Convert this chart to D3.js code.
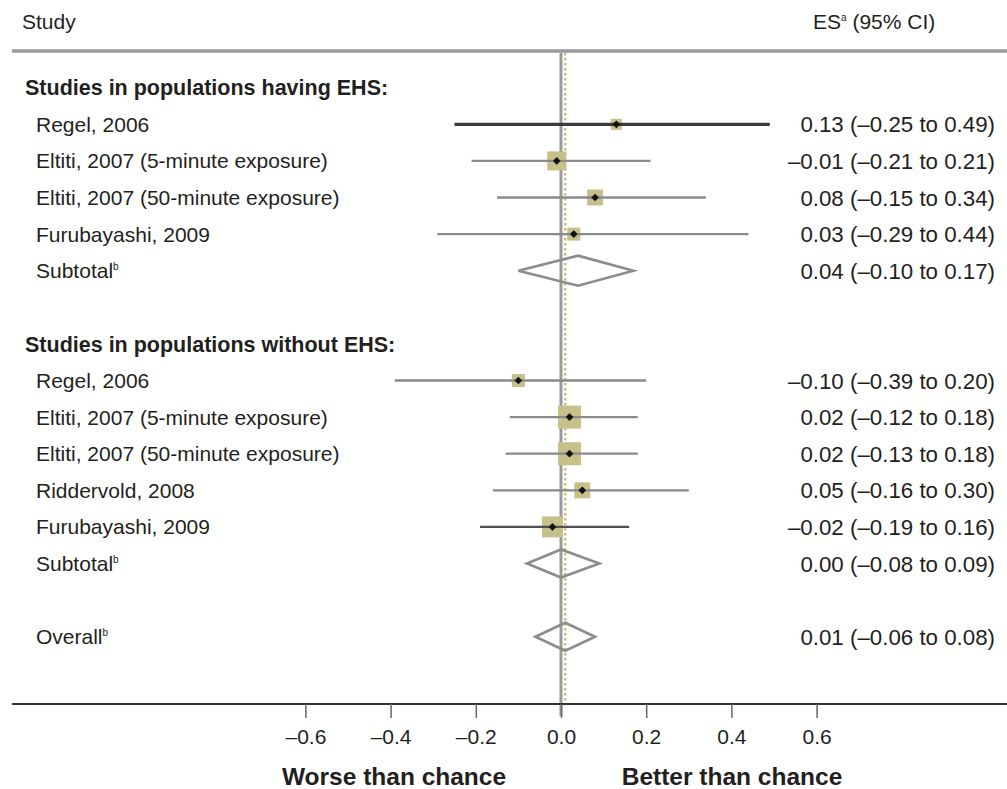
<!DOCTYPE html>
<html>
<head>
<meta charset="utf-8">
<script src="https://cdn.jsdelivr.net/npm/d3@7"></script>
<style>
  html, body { margin: 0; padding: 0; background: #fff; }
  svg text { font-family: "Liberation Sans", Arial, sans-serif; fill: #231f20; }
</style>
</head>
<body>
<svg id="chart" width="1007" height="789"></svg>
<script>
// Study rows (row index on a 16-row grid), effect sizes and 95% CIs
const studyLabels = [
  "Regel, 2006", "Eltiti, 2007 (5-minute exposure)", "Eltiti, 2007 (50-minute exposure)", "Furubayashi, 2009",
  "Regel, 2006", "Eltiti, 2007 (5-minute exposure)", "Eltiti, 2007 (50-minute exposure)", "Riddervold, 2008", "Furubayashi, 2009"
];
const studyRows = [1, 2, 3, 4, 8, 9, 10, 11, 12];
const studyES   = [0.13, -0.01, 0.08, 0.03, -0.10, 0.02, 0.02, 0.05, -0.02];
const studyLow  = [-0.25, -0.21, -0.15, -0.29, -0.39, -0.12, -0.13, -0.16, -0.19];
const studyHigh = [0.49, 0.21, 0.34, 0.44, 0.20, 0.18, 0.18, 0.30, 0.16];
const studyWeights = [4.3, 12.8, 9.0, 6.0, 6.0, 18.7, 18.7, 9.0, 15.6];

// Pooled estimates
const pooledLabels = ["Subtotal", "Subtotal", "Overall"];
const pooledRows = [5, 13, 15];
const pooledES   = [0.04, 0.00, 0.01];
const pooledLow  = [-0.10, -0.08, -0.06];
const pooledHigh = [0.17, 0.09, 0.08];

// Group headings
const groupLabels = ["Studies in populations having EHS:", "Studies in populations without EHS:"];
const groupRows = [0, 7];

// Axis
const tickValues = [-0.6, -0.4, -0.2, 0.0, 0.2, 0.4, 0.6];
const tickLabels = ["\u20130.6", "\u20130.4", "\u20130.2", "0.0", "0.2", "0.4", "0.6"];
const sideLabels = ["Worse than chance", "Better than chance"];

const svg = d3.select("#chart");
const x = d3.scaleLinear().domain([-0.6, 0.6]).range([305.4, 816.6]);
const y = d3.scaleLinear().domain([0, 15]).range([87.7, 636.7]);
const box = d3.scaleSqrt().domain([0, 18.7]).range([0, 23]);

const fmt = v => (v < 0 ? "\u2013" : "") + Math.abs(v).toFixed(2);
const esText = (e, l, h) => `${fmt(e)} (${fmt(l)} to ${fmt(h)})`;

const axisY = 704;
const fontSize = 21;
const esFontSize = 22.3;

// Column headings and rules
svg.append("text").attr("x", 22).attr("y", 29).attr("font-size", 21).text("Study");
const esHead = svg.append("text").attr("x", 813).attr("y", 29).attr("font-size", 21);
esHead.append("tspan").text("ES");
esHead.append("tspan").attr("dy", -8).attr("font-size", 10).text("a");
esHead.append("tspan").attr("dy", 8).text(" (95% CI)");

svg.append("line").attr("x1", 12).attr("x2", 1007).attr("y1", 51).attr("y2", 51)
  .attr("stroke", "#999").attr("stroke-width", 3.5);

// Reference line at zero and dotted line at the overall estimate
svg.append("line").attr("x1", x(0)).attr("x2", x(0)).attr("y1", 53).attr("y2", 716)
  .attr("stroke", "#9a9a9a").attr("stroke-width", 3);
svg.append("line").attr("x1", x(pooledES[2])).attr("x2", x(pooledES[2])).attr("y1", 53).attr("y2", axisY)
  .attr("stroke", "#c9c27c").attr("stroke-width", 2.5).attr("stroke-dasharray", "2.5,2.5");

// Group headings
svg.append("g").selectAll("text").data(groupLabels).join("text")
  .attr("x", 25).attr("y", (d, i) => y(groupRows[i])).attr("dy", "0.36em")
  .attr("font-size", 21.5).attr("font-weight", "bold").text(d => d);

// Study labels and estimates
svg.append("g").selectAll("text").data(studyLabels).join("text")
  .attr("x", 36).attr("y", (d, i) => y(studyRows[i])).attr("dy", "0.36em")
  .attr("font-size", fontSize).text(d => d);
svg.append("g").selectAll("text").data(studyES).join("text")
  .attr("x", 995).attr("y", (d, i) => y(studyRows[i])).attr("dy", "0.36em")
  .attr("text-anchor", "end").attr("font-size", esFontSize)
  .text((d, i) => esText(d, studyLow[i], studyHigh[i]));

// Pooled labels and estimates
const pl = svg.append("g").selectAll("text").data(pooledLabels).join("text")
  .attr("x", 36).attr("y", (d, i) => y(pooledRows[i])).attr("dy", "0.36em")
  .attr("font-size", fontSize);
pl.append("tspan").text(d => d);
pl.append("tspan").attr("dy", -8).attr("font-size", 10).text("b");
svg.append("g").selectAll("text").data(pooledES).join("text")
  .attr("x", 995).attr("y", (d, i) => y(pooledRows[i])).attr("dy", "0.36em")
  .attr("text-anchor", "end").attr("font-size", esFontSize)
  .text((d, i) => esText(d, pooledLow[i], pooledHigh[i]));

// Weight boxes
svg.append("g").selectAll("rect").data(studyES).join("rect")
  .attr("x", (d, i) => x(d) - box(studyWeights[i]) / 2)
  .attr("y", (d, i) => y(studyRows[i]) - box(studyWeights[i]) / 2)
  .attr("width", (d, i) => box(studyWeights[i]))
  .attr("height", (d, i) => box(studyWeights[i]))
  .attr("fill", "#c6c08a");

// Confidence intervals
const ciColor = i => i === 0 ? "#3a3a3a" : (i === 8 ? "#505050" : "#8a8a8a");
svg.append("g").selectAll("line").data(studyES).join("line")
  .attr("x1", (d, i) => x(studyLow[i])).attr("x2", (d, i) => x(studyHigh[i]))
  .attr("y1", (d, i) => y(studyRows[i])).attr("y2", (d, i) => y(studyRows[i]))
  .attr("stroke", (d, i) => ciColor(i)).attr("stroke-width", (d, i) => i === 0 ? 3.2 : 2.3);

// Point estimates (small rotated squares)
svg.append("g").selectAll("path").data(studyES).join("path")
  .attr("transform", (d, i) => `translate(${x(d)},${y(studyRows[i])}) rotate(45)`)
  .attr("d", d3.symbol().type(d3.symbolSquare).size(30))
  .attr("fill", "#111");

// Pooled diamonds
const halfH = [15, 14, 14];
svg.append("g").selectAll("path").data(pooledES).join("path")
  .attr("d", (d, i) => {
    const cy = y(pooledRows[i]), h = halfH[i];
    return `M${x(pooledLow[i])},${cy}L${x(d)},${cy - h}L${x(pooledHigh[i])},${cy}L${x(d)},${cy + h}Z`;
  })
  .attr("fill", "none").attr("stroke", "#8c8c8c").attr("stroke-width", 2.6);

// X axis
svg.append("line").attr("x1", 12).attr("x2", 1007).attr("y1", axisY).attr("y2", axisY)
  .attr("stroke", "#333").attr("stroke-width", 2);
const axis = d3.axisBottom(x).tickValues(tickValues).tickSize(14).tickPadding(11)
  .tickFormat((d, i) => tickLabels[i]);
const ax = svg.append("g").attr("transform", `translate(0,${axisY})`).call(axis);
ax.select(".domain").remove();
ax.selectAll(".tick line").attr("stroke", "#666").attr("stroke-width", 1.5);
ax.selectAll(".tick text").attr("font-size", 21).attr("fill", "#231f20")
  .style("font-family", "'Liberation Sans', Arial, sans-serif");

// Direction labels
svg.append("g").selectAll("text").data(sideLabels).join("text")
  .attr("x", (d, i) => i === 0 ? 394 : 732).attr("y", 785)
  .attr("text-anchor", "middle").attr("font-size", 24.5).attr("font-weight", "bold")
  .text(d => d);
</script>
</body>
</html>
